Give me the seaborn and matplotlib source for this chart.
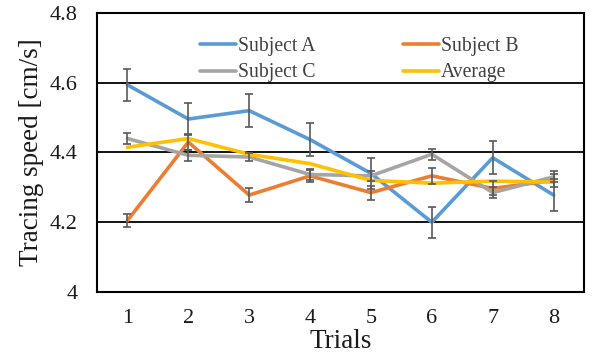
import matplotlib
matplotlib.use("Agg")
import matplotlib.pyplot as plt
from matplotlib.lines import Line2D
import seaborn as sns
import pandas as pd

trials = [1, 2, 3, 4, 5, 6, 7, 8]
subject_a = [4.594, 4.496, 4.520, 4.437, 4.340, 4.200, 4.385, 4.278]
subject_b = [4.205, 4.430, 4.278, 4.333, 4.285, 4.333, 4.297, 4.320]
subject_c = [4.440, 4.392, 4.387, 4.337, 4.333, 4.395, 4.285, 4.330]
average = [4.415, 4.440, 4.395, 4.368, 4.320, 4.312, 4.318, 4.315]
err_a = [0.045, 0.045, 0.047, 0.048, 0.045, 0.045, 0.047, 0.046]
err_b = [0.020, 0.022, 0.020, 0.018, 0.020, 0.022, 0.020, 0.018]
err_c = [0.016, 0.015, 0.012, 0.015, 0.015, 0.016, 0.015, 0.016]
series_names = ["Subject A", "Subject B", "Subject C", "Average"]
colors = ["#5B9BD5", "#ED7D31", "#A5A5A5", "#FFC000"]

sns.set_theme(style="white")
plt.rcParams["font.family"] = ["Liberation Serif", "DejaVu Serif"]

rows = []
for name, vals in zip(series_names, [subject_a, subject_b, subject_c, average]):
    for t, v in zip(trials, vals):
        rows.append({"Trial": t, "Speed": v, "Series": name})
df = pd.DataFrame(rows)

W, H = 595, 356
fig = plt.figure(figsize=(W / 100, H / 100), dpi=100)
ax = fig.add_axes([97 / W, 1 - 292 / H, 487 / W, 279 / H])

sns.lineplot(data=df, x="Trial", y="Speed", hue="Series", hue_order=series_names,
             palette=colors, linewidth=2.6, ax=ax, legend=False, zorder=3)

for vals, errs in zip([subject_a, subject_b, subject_c], [err_a, err_b, err_c]):
    ax.errorbar(trials, vals, yerr=errs, fmt="none", ecolor="#595959",
                elinewidth=1.2, capsize=3, capthick=1.2, zorder=4)

ax.set_xlim(0.5, 8.5)
ax.set_ylim(4.0, 4.8)
ax.set_yticks([4.0, 4.2, 4.4, 4.6, 4.8])
ax.set_yticklabels(["4", "4.2", "4.4", "4.6", "4.8"])
ax.set_xticks(trials)
ax.set_xticklabels([str(t) for t in trials])
ax.tick_params(axis="both", labelsize=16, length=0, colors="#1a1a1a")
ax.tick_params(axis="x", pad=12)
ax.tick_params(axis="y", pad=14)
for y in [4.2, 4.4, 4.6]:
    ax.axhline(y, color="black", linewidth=1.3, zorder=1)
for s in ax.spines.values():
    s.set_color("black")
    s.set_linewidth(1.5)
ax.set_xlabel("Trials", fontsize=19.5, labelpad=1, color="#1a1a1a")
ax.set_ylabel("Tracing speed [cm/s]", fontsize=19.5, labelpad=4, color="#1a1a1a")

order = [0, 2, 1, 3]
handles = [Line2D([0], [0], color=colors[i], linewidth=2.6) for i in order]
labels = [series_names[i] for i in order]
leg = ax.legend(handles, labels, ncol=2, loc="upper left",
                bbox_to_anchor=((200 - 97) / 487, (292 - 37) / 279),
                frameon=False, fontsize=14.2, handlelength=1.85, handletextpad=0.1,
                columnspacing=4.4, labelspacing=0.38, borderpad=0, borderaxespad=0)
for t in leg.get_texts():
    t.set_color("#404040")

fig.savefig("out.png", dpi=100)
